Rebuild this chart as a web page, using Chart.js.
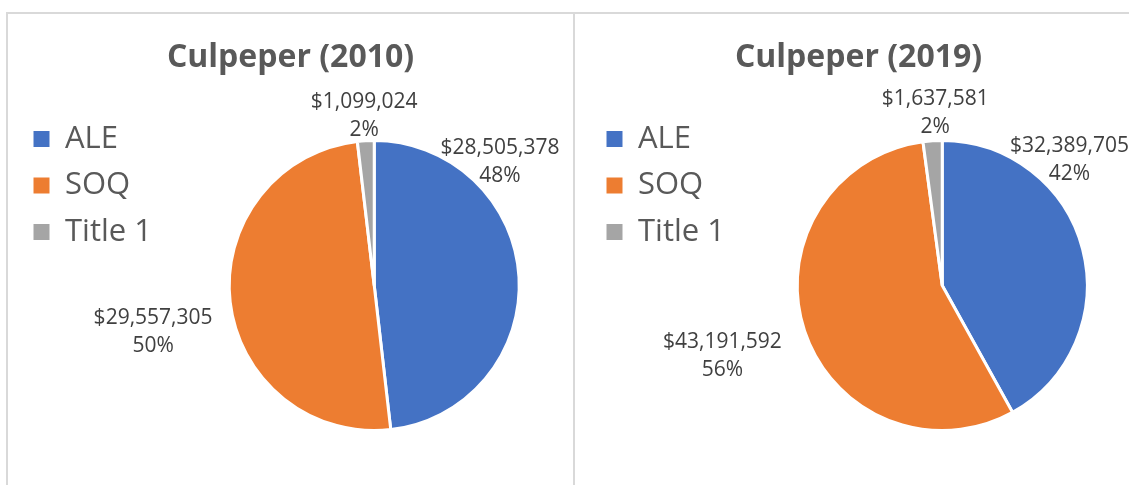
<!DOCTYPE html>
<html lang="en">
<head>
    <meta charset="UTF-8">
    <title>Culpeper Funding</title>
    <style>
        body {
            margin: 0;
            width: 1129px;
            height: 485px;
            overflow: hidden;
            background: #ffffff;
            font-family: "Open Sans", sans-serif;
            position: relative;
        }

        .frame {
            position: absolute;
            background: #d9d9d9;
        }

        .chartBox {
            position: absolute;
            top: 14px;
            width: 600px;
            height: 471px;
        }
    </style>
</head>
<body>
    <div class="frame" style="left:6px; top:12px; width:1123px; height:2px;"></div>
    <div class="frame" style="left:6px; top:12px; width:2px; height:473px;"></div>
    <div class="frame" style="left:573px; top:12px; width:2px; height:473px;"></div>

    <div class="chartBox" style="left:8px;">
        <canvas id="chart2010" width="600" height="471"></canvas>
    </div>
    <div class="chartBox" style="left:576px;">
        <canvas id="chart2019" width="600" height="471"></canvas>
    </div>

    <script src="https://cdn.jsdelivr.net/npm/chart.js"></script>
    <script>
        const categories = ["ALE", "SOQ", "Title 1"];
        const values2010 = [28505378, 29557305, 1099024];
        const values2019 = [32389705, 43191592, 1637581];
        const chartTitles = ["Culpeper (2010)", "Culpeper (2019)"];
        const sliceColors = ["#4472C4", "#ED7D31", "#A5A5A5"];

        // where the value labels sit: [angle in degrees, gap past the pie edge]
        const labelPlace2010 = [[-44.4, 31], [168.1, 81], [-93.4, 25]];
        const labelPlace2019 = [[-44.7, 34], [162.1, 86], [-92.3, 28]];

        // title drawn over the whole box, not only over the pie area
        const boxTitle = {
            id: "boxTitle",
            afterDraw(chart, args, opts) {
                const ctx = chart.ctx;
                ctx.save();
                ctx.font = "bold 32px 'Open Sans'";
                ctx.fillStyle = "#595959";
                ctx.textAlign = "center";
                ctx.textBaseline = "alphabetic";
                ctx.fillText(opts.text, 282.5, 52.5);
                ctx.restore();
            }
        };

        const sliceLabels = {
            id: "sliceLabels",
            afterDatasetsDraw(chart, args, opts) {
                const ctx = chart.ctx;
                const meta = chart.getDatasetMeta(0);
                const values = chart.data.datasets[0].data;
                const total = values.reduce((a, b) => a + b, 0);
                ctx.save();
                ctx.font = "21px 'Open Sans'";
                ctx.fillStyle = "#404040";
                ctx.textAlign = "center";
                ctx.textBaseline = "middle";
                meta.data.forEach((arc, i) => {
                    const p = opts.place[i];
                    const a = p[0] * Math.PI / 180;
                    const r = arc.outerRadius + p[1];
                    const x = arc.x + Math.cos(a) * r;
                    const y = arc.y + Math.sin(a) * r;
                    ctx.fillText("$" + values[i].toLocaleString("en-US"), x, y - 14);
                    ctx.fillText(Math.round(values[i] / total * 100) + "%", x, y + 14);
                });
                ctx.restore();
            }
        };

        function makePie(canvasId, values, title, place, padLeft, padRight) {
            return new Chart(document.getElementById(canvasId), {
                type: "pie",
                data: {
                    labels: categories,
                    datasets: [{
                        data: values,
                        backgroundColor: sliceColors,
                        borderColor: "#ffffff",
                        borderWidth: 3
                    }]
                },
                options: {
                    responsive: false,
                    animation: false,
                    radius: 145,
                    layout: {
                        padding: { top: 94, bottom: 22, left: padLeft, right: padRight }
                    },
                    plugins: {
                        tooltip: { enabled: false },
                        title: { display: false },
                        legend: {
                            position: "left",
                            align: "start",
                            labels: {
                                boxWidth: 16,
                                boxHeight: 16,
                                padding: 15.5,
                                color: "#595959",
                                font: { family: "'Open Sans'", size: 31 },
                                generateLabels(chart) {
                                    const items = Chart.overrides.pie.plugins.legend.labels.generateLabels(chart);
                                    items.forEach(it => { it.lineWidth = 0; });
                                    return items;
                                }
                            }
                        },
                        boxTitle: { text: title },
                        sliceLabels: { place: place }
                    }
                },
                plugins: [boxTitle, sliceLabels]
            });
        }

        makePie("chart2010", values2010, chartTitles[0], labelPlace2010, 10, 21.5);
        makePie("chart2019", values2019, chartTitles[1], labelPlace2019, 15, 26.5);
    </script>
</body>
</html>
